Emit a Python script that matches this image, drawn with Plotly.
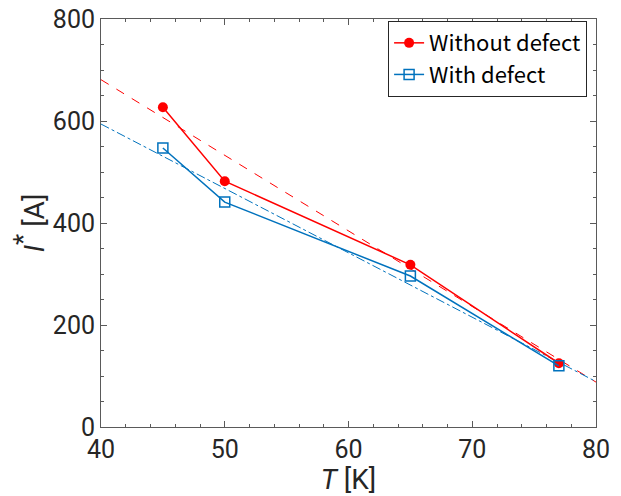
import plotly.graph_objects as go

T = [45, 50, 65, 77]
I_without = [627, 482, 318, 125]
I_with = [547, 441, 296, 120]

fit_T = [40, 80]
fit_without = [681, 88]
fit_with = [594, 89]

RED = "#FF0000"
BLUE = "#0072BD"
TICKFONT = "Roboto"
LEGFONT = "Noto Sans CJK JP"

fig = go.Figure()
fig.add_trace(go.Scatter(x=fit_T, y=fit_without, mode="lines", showlegend=False,
                         line=dict(color=RED, width=1, dash="dash")))
fig.add_trace(go.Scatter(x=fit_T, y=fit_with, mode="lines", showlegend=False,
                         line=dict(color=BLUE, width=1, dash="dashdot")))
fig.add_trace(go.Scatter(x=T, y=I_without, mode="lines+markers", name="Without defect",
                         line=dict(color=RED, width=1.5),
                         marker=dict(symbol="circle", size=10, color=RED)))
fig.add_trace(go.Scatter(x=T, y=I_with, mode="lines+markers", name="With defect",
                         line=dict(color=BLUE, width=1.5),
                         marker=dict(symbol="square-open", size=10, color=BLUE,
                                     line=dict(width=1.5, color=BLUE))))

axis_common = dict(showgrid=False, zeroline=False, showline=True, mirror="ticks",
                   linecolor="#5a5a5a", linewidth=1, ticks="inside", ticklen=6,
                   tickcolor="#5a5a5a", automargin=False, ticklabeloverflow="allow",
                   tickfont=dict(family=TICKFONT, size=25, color="#262626"))

fig.update_xaxes(range=[40, 80], dtick=10, tick0=40,
                 minor=dict(dtick=2, ticks="inside", ticklen=3, tickcolor="#5a5a5a"),
                 title=dict(text="<i>T</i> [K]", font=dict(family=TICKFONT, size=28, color="#262626"),
                            standoff=0),
                 **axis_common)
fig.update_yaxes(range=[0, 800], dtick=200, tick0=0,
                 minor=dict(dtick=50, ticks="inside", ticklen=3, tickcolor="#5a5a5a"),
                 title=dict(text="<i>I</i><sup><span style='font-size:26px'>*</span></sup> [A]",
                            font=dict(family=TICKFONT, size=28, color="#262626"),
                            standoff=4),
                 **axis_common)

fig.update_layout(
    width=613, height=488,
    margin=dict(l=93, r=25, t=11, b=69),
    plot_bgcolor="white", paper_bgcolor="white",
    font=dict(family=TICKFONT),
    legend=dict(x=0.982, y=0.995, xanchor="right", yanchor="top",
                bgcolor="white", bordercolor="#262626", borderwidth=1,
                font=dict(family=LEGFONT, size=22, color="black"),
                tracegroupgap=0, itemwidth=30),
)

fig.write_html("out.html")
